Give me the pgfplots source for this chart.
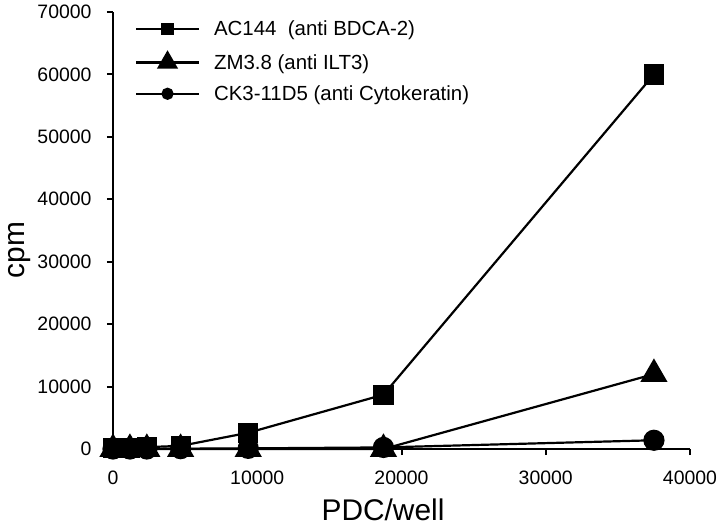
\documentclass[border=0pt]{standalone}
\usepackage{fontspec}
\setmainfont{Liberation Sans}
\usepackage{pgfplots}
\pgfplotsset{compat=1.18}
\begin{document}
\begin{tikzpicture}
\path[use as bounding box] (-113bp,-81bp) rectangle (607bp,449bp);
\begin{axis}[
  at={(0,0)}, anchor=south west,
  scale only axis, width=577bp, height=437bp,
  xmin=0, xmax=40000, ymin=0, ymax=70000,
  clip=false,
  axis x line=bottom, axis y line=left,
  axis line style={-, line width=2bp},
  tick align=outside, major tick length=6bp,
  tick style={line width=2bp, black},
  xtick={0,10000,20000,30000,40000},
  ytick={0,10000,20000,30000,40000,50000,60000,70000},
  scaled ticks=false,
  /pgf/number format/1000 sep={},
  /pgf/number format/assume math mode=true,
  tick label style={font=\fontsize{19.5}{21}\selectfont},
  xticklabel style={yshift=-12bp},
  yticklabel style={xshift=-12bp},
  xlabel={PDC/well},
  ylabel={cpm},
  label style={font=\fontsize{30}{34}\selectfont},
  xlabel style={at={(axis description cs:0.468,0)}, anchor=center, yshift=-61bp},
  ylabel style={at={(axis description cs:0,0.455)}, anchor=center, yshift=93bp},
  legend cell align=left,
  legend style={at={(axis description cs:0.038,0.979)}, anchor=north west,
    draw=none, fill=none, inner sep=0pt, outer sep=0pt,
    nodes={inner sep=0pt}, column sep=14bp, row sep=15bp,
    font=\fontsize{20.5}{23}\selectfont},
  legend image code/.code={\draw[mark repeat=2,mark phase=2,#1] plot coordinates {(0bp,0bp) (31.5bp,0bp) (63bp,0bp)};},
]
\addplot[black, line width=2.2bp, mark=square*, mark size=9bp, forget plot] coordinates {
(0,100) (1172,200) (2344,300) (4688,500) (9375,2600) (18750,8700) (37500,60000)};
\addplot[black, line width=2.2bp, mark=triangle*, mark size=13.5bp, forget plot] coordinates {
(0,0) (1172,0) (2344,0) (4688,0) (9375,0) (18750,0) (37500,12000)};
\addplot[black, line width=2.2bp, mark=*, mark size=9.5bp, forget plot] coordinates {
(0,0) (1172,0) (2344,0) (4688,50) (9375,100) (18750,250) (37500,1400)};
\addlegendimage{black, line width=2.2bp, mark=square*, mark size=5bp}
\addlegendentry{AC144\ \ (anti BDCA-2)}
\addlegendimage{black, line width=2.2bp, mark=triangle*, mark size=10bp}
\addlegendentry{ZM3.8 (anti ILT3)}
\addlegendimage{black, line width=2.2bp, mark=*, mark size=5bp}
\addlegendentry{CK3-11D5 (anti Cytokeratin)}
\end{axis}
\end{tikzpicture}
\end{document}
